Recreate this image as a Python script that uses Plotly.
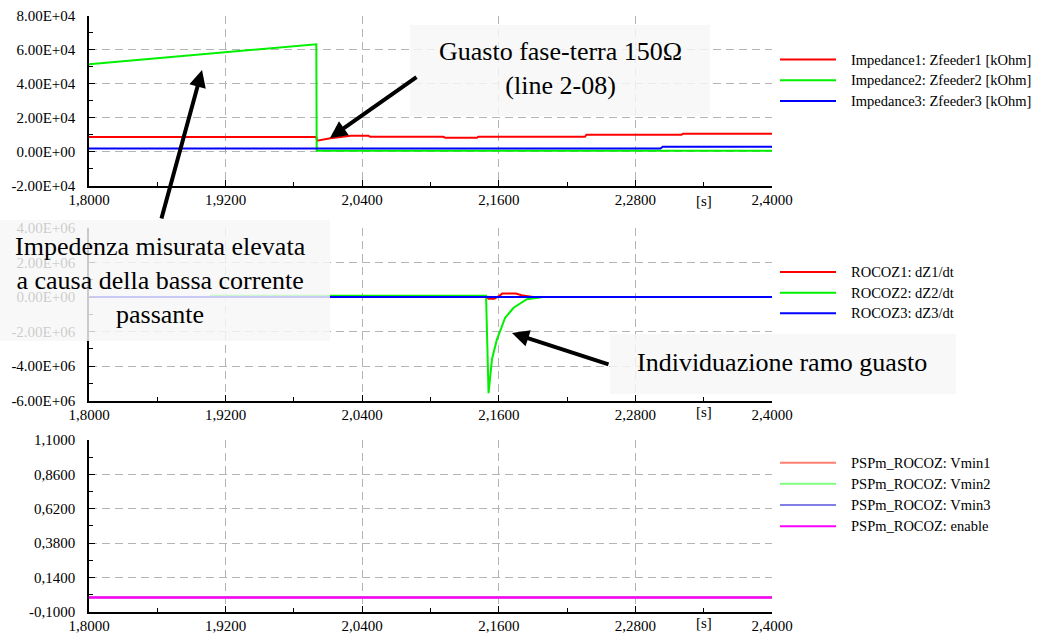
import plotly.graph_objects as go

W, H = 1039, 635

# ---------------- data ----------------
# Impedance panel [kOhm]
t_z1 = [1.8, 1.9995, 2.0005, 2.012, 2.030, 2.0455, 2.047, 2.111, 2.113, 2.1408, 2.142, 2.2357, 2.237, 2.3205, 2.322, 2.4]
z1 = [8650, 8650, 6500, 7900, 9400, 9400, 8800, 8800, 8200, 8200, 8800, 8800, 10000, 10000, 10600, 10600]
t_z2 = [1.8, 1.85, 1.9, 1.95, 1.9997, 2.0, 2.4]
z2 = [51400, 54300, 57300, 60200, 63200, 600, 600]
t_z3 = [1.8, 2.302, 2.304, 2.4]
z3 = [1900, 1900, 2900, 2900]

# ROCOZ panel [dZ/dt]
t_d1 = [1.8, 2.149, 2.151, 2.156, 2.160, 2.163, 2.175, 2.180, 2.190, 2.4]
d1 = [0, 0, -1.0e5, -1.0e5, 0.5e5, 2.0e5, 2.0e5, 1.0e5, 0, 0]
t_d2 = [1.8, 1.906, 1.907, 2.1488, 2.1510, 2.1540, 2.1583, 2.1656, 2.1730, 2.1847, 2.1990, 2.4]
d2 = [0, 0, 8e4, 8e4, -5.57e6, -3.6e6, -2.47e6, -1.2e6, -0.62e6, -0.13e6, 0, 0]
t_d3 = [1.8, 2.4]
d3 = [0, 0]

# PSPm_ROCOZ panel
t_v = [1.8, 2.4]
vmin1 = [0, 0]
vmin2 = [0, 0]
vmin3 = [0, 0]
enable = [0, 0]

# axis ticks
x_ticks = [1.8, 1.92, 2.04, 2.16, 2.28, 2.4]
x_labels = ["1,8000", "1,9200", "2,0400", "2,1600", "2,2800", "2,4000"]
x_minor = [1.86, 1.98, 2.10, 2.22, 2.34]

y1_ticks = [-2e4, 0, 2e4, 4e4, 6e4, 8e4]
y1_labels = ["-2.00E+04", "0.00E+00", "2.00E+04", "4.00E+04", "6.00E+04", "8.00E+04"]
y2_ticks = [-6e6, -4e6, -2e6, 0, 2e6, 4e6]
y2_labels = ["-6.00E+06", "-4.00E+06", "-2.00E+06", "0.00E+00", "2.00E+06", "4.00E+06"]
y3_ticks = [-0.1, 0.14, 0.38, 0.62, 0.86, 1.1]
y3_labels = ["-0,1000", "0,1400", "0,3800", "0,6200", "0,8600", "1,1000"]

legend1 = ["Impedance1: Zfeeder1 [kOhm]", "Impedance2: Zfeeder2 [kOhm]", "Impedance3: Zfeeder3 [kOhm]"]
legend2 = ["ROCOZ1: dZ1/dt", "ROCOZ2: dZ2/dt", "ROCOZ3: dZ3/dt"]
legend3 = ["PSPm_ROCOZ: Vmin1", "PSPm_ROCOZ: Vmin2", "PSPm_ROCOZ: Vmin3", "PSPm_ROCOZ: enable"]

RED, GREEN, BLUE = "#ff0000", "#00f000", "#0000ff"
C_V1, C_V2, C_V3, C_EN = "#ff7f72", "#7fff7f", "#0000cc", "#ff00ff"

FONT = "Liberation Serif"


def px(x):
    return x / W


def py(y):
    return 1 - y / H


fig = go.Figure()

# panel 1
fig.add_trace(go.Scatter(x=t_z1, y=z1, mode="lines", line=dict(color=RED, width=2), xaxis="x", yaxis="y", name=legend1[0]))
fig.add_trace(go.Scatter(x=t_z2, y=z2, mode="lines", line=dict(color=GREEN, width=2), xaxis="x", yaxis="y", name=legend1[1]))
fig.add_trace(go.Scatter(x=t_z3, y=z3, mode="lines", line=dict(color=BLUE, width=2), xaxis="x", yaxis="y", name=legend1[2]))
# panel 2
fig.add_trace(go.Scatter(x=t_d1, y=d1, mode="lines", line=dict(color=RED, width=2), xaxis="x2", yaxis="y2", name=legend2[0]))
fig.add_trace(go.Scatter(x=t_d2, y=d2, mode="lines", line=dict(color=GREEN, width=2), xaxis="x2", yaxis="y2", name=legend2[1]))
fig.add_trace(go.Scatter(x=t_d3, y=d3, mode="lines", line=dict(color=BLUE, width=2), xaxis="x2", yaxis="y2", name=legend2[2]))
# panel 3
fig.add_trace(go.Scatter(x=t_v, y=vmin1, mode="lines", line=dict(color=C_V1, width=2), xaxis="x3", yaxis="y3", name=legend3[0]))
fig.add_trace(go.Scatter(x=t_v, y=vmin2, mode="lines", line=dict(color=C_V2, width=2), xaxis="x3", yaxis="y3", name=legend3[1]))
fig.add_trace(go.Scatter(x=t_v, y=vmin3, mode="lines", line=dict(color=C_V3, width=1), xaxis="x3", yaxis="y3", name=legend3[2]))
fig.add_trace(go.Scatter(x=t_v, y=enable, mode="lines", line=dict(color=C_EN, width=2.5), xaxis="x3", yaxis="y3", name=legend3[3]))

x_dom = [px(89), px(772)]
y_doms = [
    [py(185.7), py(15.7)],
    [py(400.6), py(228.0)],
    [py(611.7), py(440.0)],
]

grid = dict(showgrid=True, gridcolor="#b4b4b4", gridwidth=1, griddash="8px,5px")
common = dict(
    showline=True, linecolor="black", linewidth=1.5,
    ticks="inside", ticklen=6, tickcolor="black", tickwidth=1,
    tickfont=dict(family=FONT, size=15, color="black"),
    zeroline=False, tickmode="array", automargin=False, **grid,
)

x_axes = {}
for i, name in enumerate(["xaxis", "xaxis2", "xaxis3"]):
    ax = dict(common)
    ax.update(
        domain=x_dom, range=[1.8, 2.4], tickvals=x_ticks, ticktext=x_labels,
        anchor=["y", "y2", "y3"][i], ticklabelstandoff=0,
        minor=dict(tickvals=x_minor, ticks="inside", ticklen=4, tickcolor="black", showgrid=False),
    )
    if i > 0:
        ax["matches"] = "x"
    x_axes[name] = ax

y_specs = [
    ("yaxis", "x", [-2e4, 8e4], y1_ticks, y1_labels, [-1e4, 1e4, 3e4, 5e4, 7e4]),
    ("yaxis2", "x2", [-6e6, 4e6], y2_ticks, y2_labels, [-5e6, -3e6, -1e6, 1e6, 3e6]),
    ("yaxis3", "x3", [-0.1, 1.1], y3_ticks, y3_labels, [0.02, 0.26, 0.50, 0.74, 0.98]),
]
y_axes = {}
for i, (name, anc, rng, tv, tt, mn) in enumerate(y_specs):
    ax = dict(common)
    ax.update(
        domain=y_doms[i], range=rng, tickvals=tv, ticktext=tt, anchor=anc,
        ticklabelstandoff=9,
        minor=dict(tickvals=mn, ticks="inside", ticklen=4, tickcolor="black", showgrid=False),
    )
    y_axes[name] = ax

fig.update_layout(
    width=W, height=H,
    margin=dict(l=0, r=0, t=0, b=0, autoexpand=False),
    paper_bgcolor="white", plot_bgcolor="white",
    showlegend=False,
    font=dict(family=FONT, color="black"),
    **x_axes, **y_axes,
)

shapes = []
annotations = []

# hand-drawn legend blocks, one per panel
legend_blocks = [
    (legend1, [RED, GREEN, BLUE], [2, 2, 2], [59.5, 80.3, 101.0]),
    (legend2, [RED, GREEN, BLUE], [2, 2, 2], [272.0, 292.7, 313.3]),
    (legend3, [C_V1, C_V2, C_V3, C_EN], [2, 2, 1, 2], [462.7, 483.7, 505.0, 526.3]),
]
for names, colors, widths, ys in legend_blocks:
    for n, c, w, yy in zip(names, colors, widths, ys):
        shapes.append(dict(type="line", xref="paper", yref="paper",
                           x0=px(780), x1=px(836), y0=py(yy), y1=py(yy),
                           line=dict(color=c, width=w)))
        annotations.append(dict(xref="paper", yref="paper", x=px(849), y=py(yy),
                                xanchor="left", yanchor="middle", showarrow=False,
                                text=n, font=dict(family=FONT, size=14.5, color="black")))

# "[s]" unit labels under each time axis
for yy in [201.0, 412.0, 623.0]:
    annotations.append(dict(xref="x", yref="paper", x=2.34, y=py(yy), showarrow=False,
                            xanchor="center", yanchor="middle", text="[s]",
                            font=dict(family=FONT, size=15, color="black")))

# callout boxes
boxes = [
    (410, 25, 710, 116),
    (0, 220, 330, 341),
    (610, 334, 956, 394),
]
for x0, y0, x1, y1 in boxes:
    shapes.append(dict(type="rect", xref="paper", yref="paper", layer="above",
                       x0=px(x0), x1=px(x1), y0=py(y1), y1=py(y0),
                       fillcolor="rgba(246,246,246,0.82)", line=dict(width=0)))

callouts = [
    ("Guasto fase-terra 150Ω<br>(line 2-08)", 560, 68.5),
    ("Impedenza misurata elevata<br>a causa della bassa corrente<br>passante", 160, 281),
    ("Individuazione ramo guasto", 782, 362),
]
for txt, cx, cy in callouts:
    annotations.append(dict(xref="paper", yref="paper", x=px(cx), y=py(cy), showarrow=False,
                            xanchor="center", yanchor="middle", align="center", text=txt,
                            font=dict(family=FONT, size=26, color="black")))

# arrows pointing at the traces
arrows = [
    ("x", "y", 2.0117, 8060, 88, -62),
    ("x", "y", 1.8993, 48060, -41, 150),
    ("x2", "y2", 2.1716, -2.08e6, 98, 32),
]
for xr, yr, x, y, axp, ayp in arrows:
    annotations.append(dict(xref=xr, yref=yr, x=x, y=y, ax=axp, ay=ayp, text="",
                            showarrow=True, arrowhead=2, arrowsize=0.85, arrowwidth=4,
                            arrowcolor="black"))

fig.update_layout(shapes=shapes, annotations=annotations)
fig.write_html("out.html")
